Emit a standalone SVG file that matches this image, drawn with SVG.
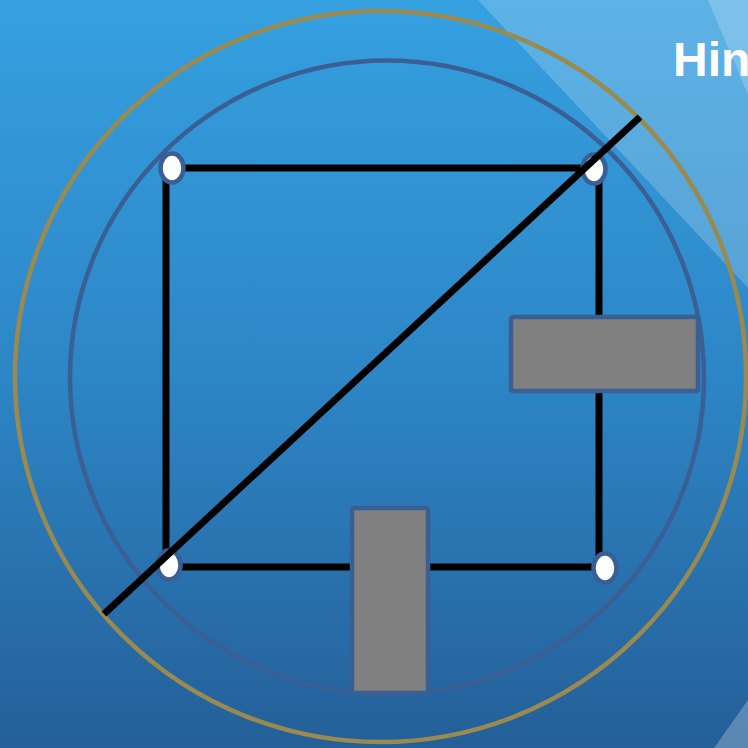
<svg xmlns="http://www.w3.org/2000/svg" width="748" height="748" viewBox="0 0 748 748">
<defs>
<linearGradient id="bg" x1="0" y1="0" x2="0" y2="1">
<stop offset="0" stop-color="#35a0e0"/>
<stop offset="0.5" stop-color="#2d86c6"/>
<stop offset="1" stop-color="#245f98"/>
</linearGradient>
<style>
.edge{stroke:#000;stroke-width:7;fill:none}
.node{fill:#fff;stroke:#3a5f95;stroke-width:4.5}
.box{fill:#808080;stroke:#3a5f95;stroke-width:4.5}
</style>
</defs>
<rect width="748" height="748" fill="url(#bg)"/>
<polygon points="478,0 748,0 748,288" fill="#ffffff" opacity="0.2"/>
<polygon points="708,0 748,0 748,95" fill="#ffffff" opacity="0.2"/>
<polygon points="748,700 748,748 714,748" fill="#ffffff" opacity="0.25"/>
<circle cx="380.5" cy="376.5" r="365.5" fill="none" stroke="#9a8a50" stroke-width="4.5"/>
<circle cx="387" cy="377.5" r="317" fill="none" stroke="#3a5f95" stroke-width="4.5"/>
<g id="connectors">
<line class="edge" x1="166" y1="168" x2="599" y2="168"/>
<line class="edge" x1="166" y1="168" x2="166" y2="567"/>
<line class="edge" x1="599" y1="168" x2="599" y2="567"/>
<line class="edge" x1="166" y1="567" x2="599" y2="567"/>
</g>
<g id="n1"><ellipse class="node" cx="172" cy="168" rx="11.5" ry="14.5"/></g>
<g id="n2"><ellipse class="node" cx="594" cy="169" rx="11.5" ry="14.5"/></g>
<g id="n3"><ellipse class="node" cx="169" cy="565" rx="11.5" ry="14.5"/></g>
<g id="n4"><ellipse class="node" cx="605" cy="568" rx="11.5" ry="14.5"/></g>
<g id="diagonal"><line class="edge" x1="104" y1="614" x2="640" y2="117"/></g>
<g id="box1"><rect class="box" x="511" y="317" width="187" height="74" rx="2"/></g>
<g id="box2"><rect class="box" x="352" y="508" width="76" height="185" rx="2"/></g>
<text x="673" y="76" font-family="Liberation Sans, Arial, sans-serif" font-weight="bold" font-size="48" fill="#ffffff">Hin</text>
</svg>
